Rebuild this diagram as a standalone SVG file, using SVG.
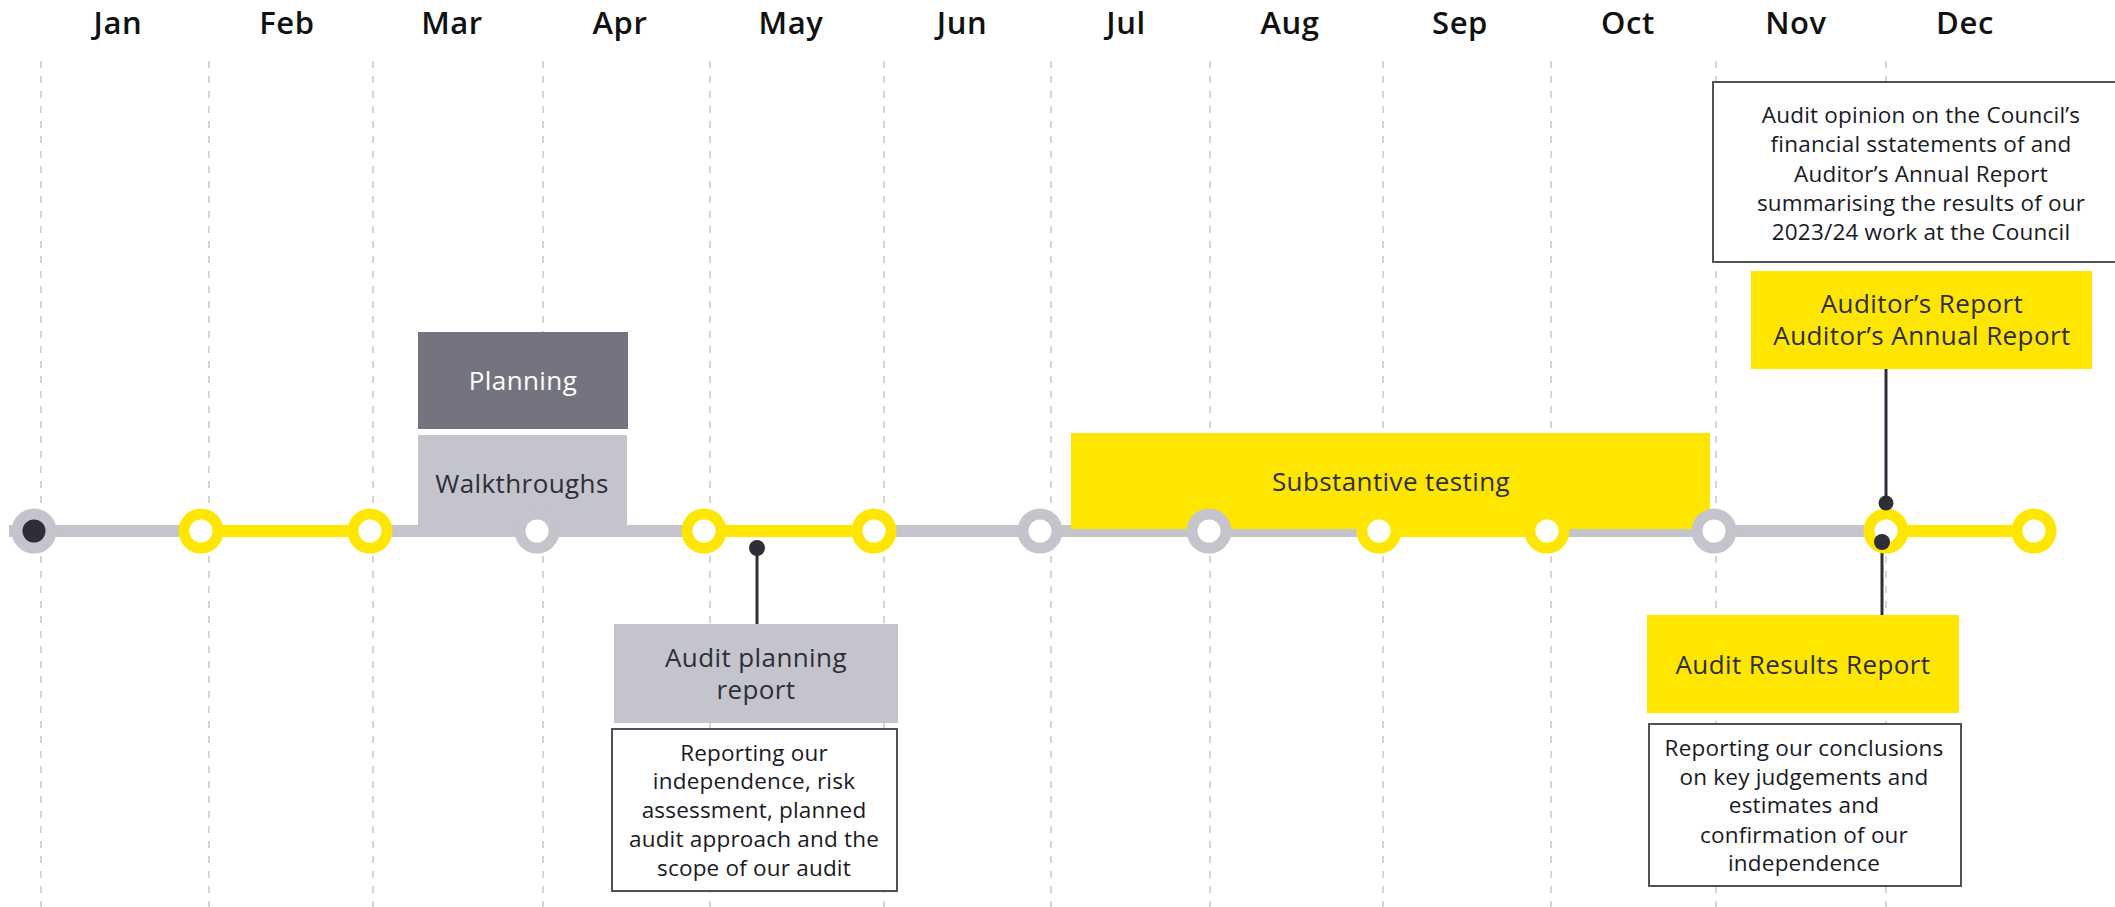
<svg xmlns="http://www.w3.org/2000/svg" width="2115" height="907" viewBox="0 0 2115 907">
<style>
.month{font-family:"Open Sans","Noto Sans",sans-serif;font-size:31px;font-weight:600;fill:#111;text-anchor:middle;letter-spacing:0.6px}
.grid{stroke:#c8c8cc;stroke-width:1.5;stroke-dasharray:7 8}
.lbl{font-family:"Open Sans","Noto Sans",sans-serif;font-size:26px;fill:#2e2e38;text-anchor:middle;letter-spacing:0.4px}
.note{font-family:"Open Sans","Noto Sans",sans-serif;font-size:22.5px;fill:#1a1a24;text-anchor:middle;letter-spacing:0.2px}
.notebox{fill:#fff;stroke:#505058;stroke-width:2}
.seg-g{stroke:#c4c4cd;stroke-width:12}
.seg-y{stroke:#ffe600;stroke-width:12}
.ring-g{fill:#fff;stroke:#c4c4cd;stroke-width:11}
.ring-y{fill:#fff;stroke:#ffe600;stroke-width:11}
.pin{stroke:#2e2e38;stroke-width:3}
.dot{fill:#2e2e38}
</style>
<rect width="2115" height="907" fill="#fff"/>
<g id="months">
<text class="month" x="118" y="34">Jan</text>
<text class="month" x="287" y="34">Feb</text>
<text class="month" x="452" y="34">Mar</text>
<text class="month" x="620" y="34">Apr</text>
<text class="month" x="791" y="34">May</text>
<text class="month" x="962" y="34">Jun</text>
<text class="month" x="1126" y="34">Jul</text>
<text class="month" x="1290" y="34">Aug</text>
<text class="month" x="1460" y="34">Sep</text>
<text class="month" x="1628" y="34">Oct</text>
<text class="month" x="1796" y="34">Nov</text>
<text class="month" x="1965" y="34">Dec</text>
</g>
<g id="gridlines">
<line class="grid" x1="41" y1="61" x2="41" y2="907"/>
<line class="grid" x1="209" y1="61" x2="209" y2="907"/>
<line class="grid" x1="373" y1="61" x2="373" y2="907"/>
<line class="grid" x1="543" y1="61" x2="543" y2="907"/>
<line class="grid" x1="710" y1="61" x2="710" y2="907"/>
<line class="grid" x1="884" y1="61" x2="884" y2="907"/>
<line class="grid" x1="1051" y1="61" x2="1051" y2="907"/>
<line class="grid" x1="1210" y1="61" x2="1210" y2="907"/>
<line class="grid" x1="1383" y1="61" x2="1383" y2="907"/>
<line class="grid" x1="1551" y1="61" x2="1551" y2="907"/>
<line class="grid" x1="1716" y1="61" x2="1716" y2="907"/>
<line class="grid" x1="1886" y1="61" x2="1886" y2="907"/>
</g>
<g id="connectors">
<line class="seg-g" x1="9" y1="531" x2="201" y2="531"/>
<line class="seg-y" x1="201" y1="531" x2="370" y2="531"/>
<line class="seg-g" x1="370" y1="531" x2="704" y2="531"/>
<line class="seg-y" x1="704" y1="531" x2="874" y2="531"/>
<line class="seg-g" x1="874" y1="531" x2="1379" y2="531"/>
<line class="seg-y" x1="1379" y1="531" x2="1547" y2="531"/>
<line class="seg-g" x1="1547" y1="531" x2="1886" y2="531"/>
<line class="seg-y" x1="1886" y1="531" x2="2034" y2="531"/>
<line class="pin" x1="757" y1="548" x2="757" y2="624"/>
<line class="pin" x1="1882" y1="542" x2="1882" y2="615"/>
<line class="pin" x1="1886" y1="369" x2="1886" y2="504"/>
</g>
<g id="planning">
<rect x="418" y="332" width="210" height="97" fill="#747480"/>
<text class="lbl" x="523" y="390" style="fill:#fff">Planning</text>
</g>
<g id="walkthroughs">
<rect x="418" y="435" width="209" height="96" fill="#c4c4cd"/>
<text class="lbl" x="522" y="493">Walkthroughs</text>
</g>
<g id="substantive-testing">
<rect x="1071" y="433" width="639" height="96" fill="#ffe600"/>
<text class="lbl" x="1391" y="491">Substantive testing</text>
</g>
<g id="milestones">
<circle cx="34" cy="531" r="17" fill="#2e2e38" stroke="#c4c4cd" stroke-width="11"/>
<circle class="ring-y" cx="201" cy="531" r="17"/>
<circle class="ring-y" cx="370" cy="531" r="17"/>
<circle class="ring-g" cx="537" cy="531" r="17"/>
<circle class="ring-y" cx="704" cy="531" r="17"/>
<circle class="ring-y" cx="874" cy="531" r="17"/>
<circle class="ring-g" cx="1040" cy="531" r="17"/>
<circle class="ring-g" cx="1209" cy="531" r="17"/>
<circle class="ring-y" cx="1379" cy="531" r="17"/>
<circle class="ring-y" cx="1547" cy="531" r="17"/>
<circle class="ring-g" cx="1714" cy="531" r="17"/>
<circle class="ring-y" cx="1886" cy="531" r="17"/>
<circle class="ring-y" cx="2034" cy="531" r="17"/>
</g>
<g id="pins">
<circle class="dot" cx="757" cy="548" r="8"/>
<circle class="dot" cx="1882" cy="542" r="8"/>
<circle class="dot" cx="1886" cy="503" r="7.5"/>
</g>
<g id="audit-planning-report">
<rect x="614" y="624" width="284" height="99" fill="#c4c4cd"/>
<text class="lbl" x="756" y="667">Audit planning</text>
<text class="lbl" x="756" y="699">report</text>
</g>
<g id="planning-note">
<rect class="notebox" x="612" y="729" width="285" height="162"/>
<text class="note" x="754" y="761">Reporting our</text>
<text class="note" x="754" y="789">independence, risk</text>
<text class="note" x="754" y="818">assessment, planned</text>
<text class="note" x="754" y="847">audit approach and the</text>
<text class="note" x="754" y="876">scope of our audit</text>
</g>
<g id="audit-results-report">
<rect x="1647" y="615" width="312" height="98" fill="#ffe600"/>
<text class="lbl" x="1803" y="674">Audit Results Report</text>
</g>
<g id="results-note">
<rect class="notebox" x="1649" y="724" width="312" height="162"/>
<text class="note" x="1804" y="756">Reporting our conclusions</text>
<text class="note" x="1804" y="785">on key judgements and</text>
<text class="note" x="1804" y="813">estimates and</text>
<text class="note" x="1804" y="843">confirmation of our</text>
<text class="note" x="1804" y="871">independence</text>
</g>
<g id="auditors-report">
<rect x="1751" y="271" width="341" height="98" fill="#ffe600"/>
<text class="lbl" x="1922" y="313">Auditor’s Report</text>
<text class="lbl" x="1922" y="345">Auditor’s Annual Report</text>
</g>
<g id="opinion-note">
<rect class="notebox" x="1713" y="82" width="410" height="180"/>
<text class="note" x="1921" y="123">Audit opinion on the Council’s</text>
<text class="note" x="1921" y="152">financial sstatements of and</text>
<text class="note" x="1921" y="182">Auditor’s Annual Report</text>
<text class="note" x="1921" y="211">summarising the results of our</text>
<text class="note" x="1921" y="240">2023/24 work at the Council</text>
</g>
</svg>
